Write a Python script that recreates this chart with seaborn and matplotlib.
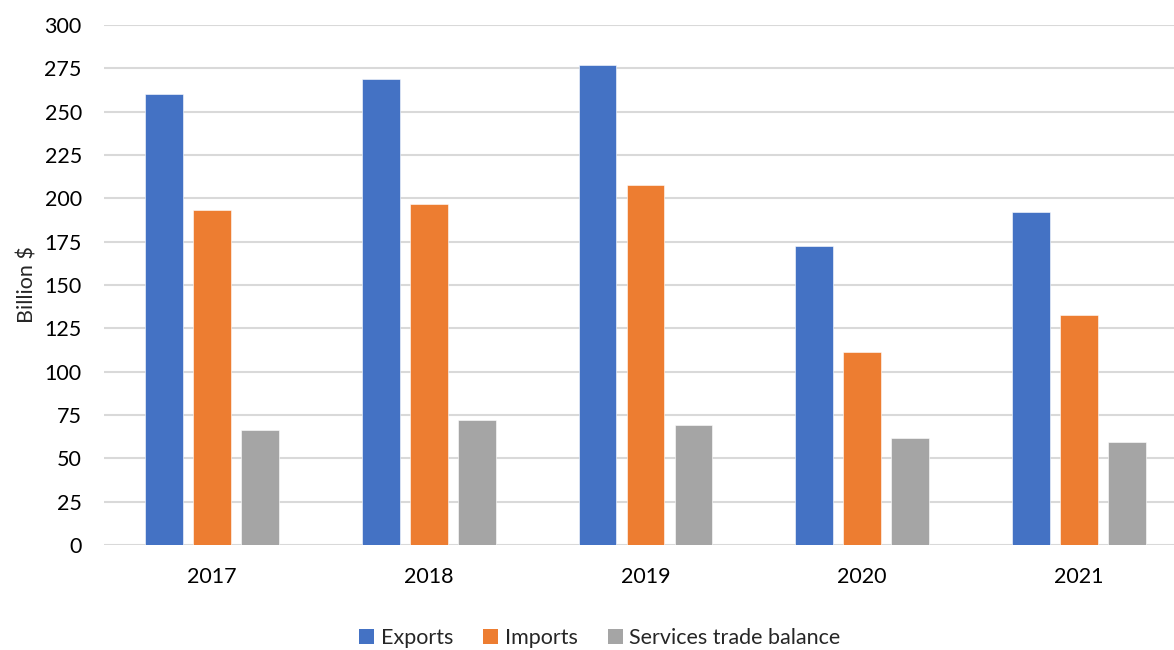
import matplotlib
matplotlib.use("Agg")
import matplotlib.pyplot as plt
from matplotlib.patches import Patch
import pandas as pd
import seaborn as sns

years = ["2017", "2018", "2019", "2020", "2021"]
exports = [260.0, 269.0, 277.0, 172.5, 192.3]
imports = [193.4, 196.7, 207.8, 111.3, 132.7]
balance = [66.4, 72.1, 69.0, 61.5, 59.3]

series_names = ["Exports", "Imports", "Services trade balance"]
colors = ["#4472C4", "#ED7D31", "#A5A5A5"]

df = pd.DataFrame({
    "year": years * 3,
    "value": exports + imports + balance,
    "series": [s for s in series_names for _ in years],
})

sns.set_theme(style="white")
plt.rcParams["font.family"] = ["Lato", "DejaVu Sans"]

fig = plt.figure(figsize=(11.74, 6.5), dpi=100)
ax = fig.add_axes([104 / 1174, 105 / 650, 1070 / 1174, 520 / 650])

sns.barplot(
    data=df, x="year", y="value", hue="series", order=years,
    hue_order=series_names, palette=colors, width=0.665, gap=0.21,
    saturation=1, ax=ax, legend=False, edgecolor="white", linewidth=0.4,
)

ax.set_ylim(0, 300)
ax.set_xlim(-0.5, -0.5 + 1070 / 216.6)
ax.set_yticks(range(0, 301, 25))
ax.yaxis.grid(True, color="#d9d9d9", linewidth=1.5)
ax.set_axisbelow(True)
for side in ["top", "right", "left", "bottom"]:
    ax.spines[side].set_visible(False)

fs = 15.5
ax.tick_params(axis="both", length=0, labelsize=fs, colors="#000000")
ax.tick_params(axis="y", pad=16)
ax.tick_params(axis="x", pad=16)
ax.set_xlabel("")
ax.set_ylabel("Billion $", fontsize=fs, labelpad=5)

handles = [Patch(facecolor=c, edgecolor="none") for c in colors]
fig.legend(
    handles, series_names, loc="center", bbox_to_anchor=(600 / 1174, 1 - 638 / 650),
    ncol=3, frameon=False, fontsize=fs, handlelength=0.7, handleheight=0.7,
    handletextpad=0.3, columnspacing=1.4,
)

fig.savefig("out.png", dpi=100)
